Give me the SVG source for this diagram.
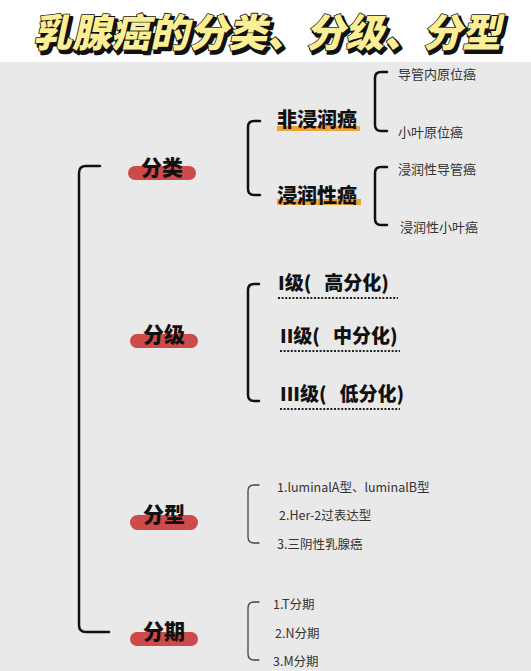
<svg xmlns="http://www.w3.org/2000/svg" width="531" height="671" viewBox="0 0 531 671">
<style>
.cjk{font-family:"Noto Sans CJK SC","Noto Sans",sans-serif}
.title{font-size:39px;font-weight:900;text-anchor:middle}
.cat{font-size:21px;font-weight:900;fill:#111;text-anchor:middle}
.sub{font-size:20px;font-weight:900;fill:#111}
.grade{font-size:19px;font-weight:900;fill:#111}
.leaf{font-size:12.5px;fill:#333;dominant-baseline:central}
.leafc{font-size:13px}
.br{fill:none;stroke:#111;stroke-width:2.5;stroke-linecap:round}
.brt{fill:none;stroke:#444;stroke-width:1.3;stroke-linecap:round}
.pill{fill:#cf4a4a}
.hl{fill:#f2a134}
.dot{stroke:#222;stroke-width:2;stroke-dasharray:2 1.6}
</style>
<rect x="0" y="0" width="531" height="671" fill="#e9e9e9"/>
<rect x="0" y="0" width="531" height="62" fill="#ffffff"/>
<g id="title" class="cjk">
<g transform="translate(267,47) skewX(-12)">
<text class="title" x="3" y="3" fill="#111" stroke="#111" stroke-width="3" stroke-linejoin="round">乳腺癌的分类、分级、分型</text>
<text class="title" x="0" y="0" fill="#fbef96" stroke="#111" stroke-width="1.6" stroke-linejoin="round" paint-order="stroke">乳腺癌的分类、分级、分型</text>
</g>
</g>
<g id="connectors">
<path class="br" d="M100,166 H86 Q79,166 79,173 V625 Q79,632 86,632 H109"/>
<path class="br" d="M260,121 H254 Q248,121 248,127 V189 Q248,195 254,195 H260"/>
<path class="br" d="M387,72 H381 Q375,72 375,78 V125 Q375,131 381,131 H387"/>
<path class="br" d="M387,167 H381 Q375,167 375,173 V219 Q375,225 381,225 H387"/>
<path class="br" d="M259,284 H254 Q248,284 248,290 V395 Q248,401 254,401 H259"/>
<path class="brt" d="M259,485 H254 Q248,485 248,491 V537 Q248,543 254,543 H259"/>
<path class="brt" d="M259,602 H254 Q248,602 248,608 V654 Q248,660 254,660 H259"/>
</g>
<g id="n-fenlei" class="cjk">
<rect class="pill" x="128" y="166" width="68" height="14" rx="7"/>
<text class="cat" x="162" y="175">分类</text>
</g>
<g id="n-fenji" class="cjk">
<rect class="pill" x="130" y="334" width="68" height="14" rx="7"/>
<text class="cat" x="164" y="342">分级</text>
</g>
<g id="n-fenxing" class="cjk">
<rect class="pill" x="130" y="515" width="68" height="15" rx="7.5"/>
<text class="cat" x="164" y="522">分型</text>
</g>
<g id="n-fenqi" class="cjk">
<rect class="pill" x="130" y="632" width="68" height="14" rx="7"/>
<text class="cat" x="164" y="639">分期</text>
</g>
<g id="n-feijinrun" class="cjk">
<rect class="hl" x="277" y="126" width="83" height="5"/>
<text class="sub" x="277" y="127">非浸润癌</text>
</g>
<g id="n-jinrun" class="cjk">
<rect class="hl" x="277" y="199" width="84" height="6"/>
<text class="sub" x="277" y="203">浸润性癌</text>
</g>
<g id="n-leaf1" class="cjk"><text class="leaf leafc" x="398" y="73">导管内原位癌</text></g>
<g id="n-leaf2" class="cjk"><text class="leaf leafc" x="398" y="131">小叶原位癌</text></g>
<g id="n-leaf3" class="cjk"><text class="leaf leafc" x="398" y="168">浸润性导管癌</text></g>
<g id="n-leaf4" class="cjk"><text class="leaf leafc" x="400" y="226">浸润性小叶癌</text></g>
<g id="n-g1" class="cjk">
<text class="grade" x="278" y="290" xml:space="preserve">I级(   高分化)</text>
<line class="dot" x1="278" y1="298" x2="398" y2="298"/>
</g>
<g id="n-g2" class="cjk">
<text class="grade" x="280" y="343" xml:space="preserve">II级(   中分化)</text>
<line class="dot" x1="280" y1="351" x2="400" y2="351"/>
</g>
<g id="n-g3" class="cjk">
<text class="grade" x="280" y="401" xml:space="preserve">III级(   低分化)</text>
<line class="dot" x1="280" y1="409" x2="400" y2="409"/>
</g>
<g id="n-t1" class="cjk"><text class="leaf" x="277" y="486">1.luminalA型、luminalB型</text></g>
<g id="n-t2" class="cjk"><text class="leaf" x="279" y="514">2.Her-2过表达型</text></g>
<g id="n-t3" class="cjk"><text class="leaf" x="277" y="543">3.三阴性乳腺癌</text></g>
<g id="n-s1" class="cjk"><text class="leaf" x="273" y="603">1.T分期</text></g>
<g id="n-s2" class="cjk"><text class="leaf" x="275" y="632">2.N分期</text></g>
<g id="n-s3" class="cjk"><text class="leaf" x="273" y="660">3.M分期</text></g>
</svg>
